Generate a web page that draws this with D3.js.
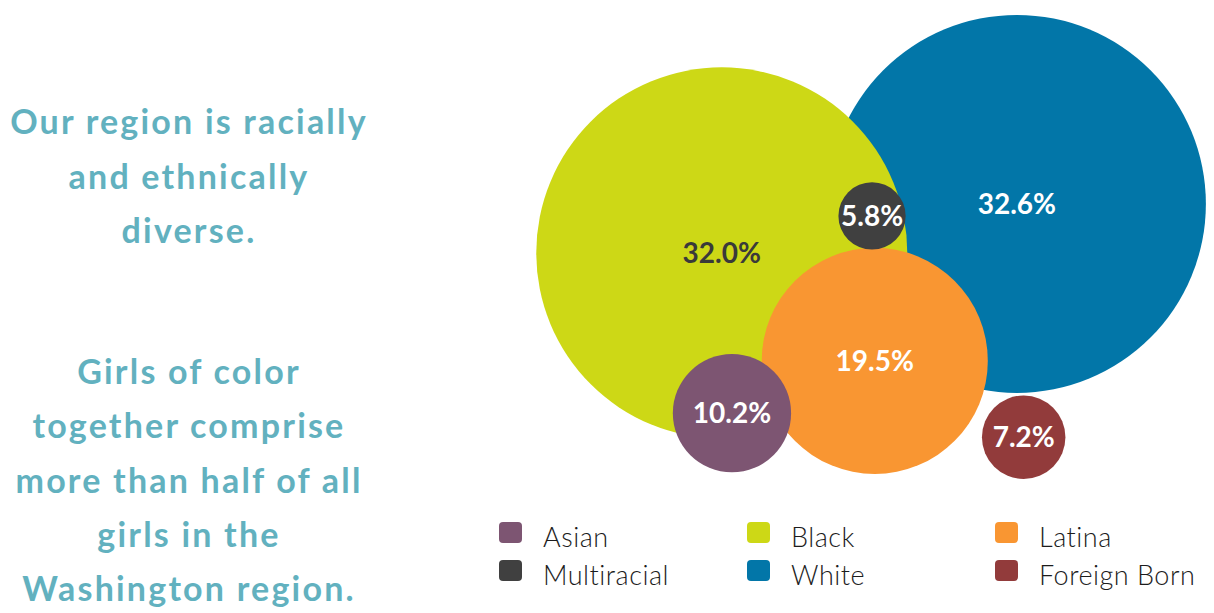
<!DOCTYPE html>
<html lang="en">
    <head>
        <meta charset="utf-8">
        <script src="https://d3js.org/d3.v7.min.js"></script>
        <style type="text/css">
            body {
                margin: 0;
                background: #ffffff;
            }
            svg {
                display: block;
            }
        </style>
    </head>
    <body>
        <div id="chart"></div>

        <script type="text/javascript">
            // data
            var groups = ["White", "Black", "Latina", "Asian", "Multiracial", "Foreign Born"];
            var shares = [32.6, 32.0, 19.5, 10.2, 5.8, 7.2];
            var colors = ["#0276a8", "#cdd816", "#f99632", "#7d5572", "#404040", "#923b3b"];
            var labelColors = ["#ffffff", "#3a3a3a", "#ffffff", "#ffffff", "#ffffff", "#ffffff"];
            // bubble layout (relative position inside the bubble area)
            var layoutX = [0.716, 0.282, 0.507, 0.297, 0.503, 0.726];
            var layoutY = [0.404, 0.506, 0.731, 0.840, 0.429, 0.890];

            // legend order (3 columns x 2 rows)
            var legendOrder = ["Asian", "Black", "Latina", "Multiracial", "White", "Foreign Born"];

            var introLines = ["Our region is racially", "and ethnically", "diverse."];
            var claimLines = ["Girls of color", "together comprise", "more than half of all",
                              "girls in the", "Washington region."];

            var w = 1214;
            var h = 613;

            var svg = d3.select("#chart")
            .append("svg")
            .attr("width", w)
            .attr("height", h);

            // scales
            var x = d3.scaleLinear().domain([0, 1]).range([530, 1210]);
            var y = d3.scaleLinear().domain([0, 1]).range([10, 490]);
            var r = d3.scaleLinear().domain([0, 32.6]).range([0, 189]);

            var bubbles = groups.map(function(g, i) {
                return { name: g, value: shares[i], color: colors[i], label: labelColors[i],
                         px: layoutX[i], py: layoutY[i] };
            });

            // Create bubbles
            var bubbleGroup = svg.append("g");
            bubbleGroup.selectAll("circle")
            .data(bubbles)
            .enter()
            .append("circle")
            .attr("cx", function(d) { return x(d.px); })
            .attr("cy", function(d) { return y(d.py); })
            .attr("r", function(d) { return r(d.value); })
            .attr("fill", function(d) { return d.color; });

            bubbleGroup.selectAll("text")
            .data(bubbles)
            .enter()
            .append("text")
            .attr("x", function(d) { return x(d.px); })
            .attr("y", function(d) { return y(d.py); })
            .attr("dy", "0.36em")
            .attr("text-anchor", "middle")
            .attr("font-family", "Lato, sans-serif")
            .attr("font-weight", 700)
            .attr("font-size", 28)
            .attr("fill", function(d) { return d.label; })
            .text(function(d) { return d.value.toFixed(1) + "%"; });

            // Create side texts
            var textGroup = svg.append("g")
            .attr("font-family", "Lato, sans-serif")
            .attr("font-weight", 700)
            .attr("font-size", 34)
            .attr("letter-spacing", 2.2)
            .attr("fill", "#62b1bf")
            .attr("text-anchor", "middle");

            textGroup.selectAll("text.intro")
            .data(introLines)
            .enter()
            .append("text")
            .attr("class", "intro")
            .attr("x", 189)
            .attr("y", function(d, i) { return 134 + i * 54.5; })
            .text(function(d) { return d; });

            textGroup.selectAll("text.claim")
            .data(claimLines)
            .enter()
            .append("text")
            .attr("class", "claim")
            .attr("x", 189)
            .attr("y", function(d, i) { return 384 + i * 54.3; })
            .text(function(d) { return d; });

            // Create legend
            var colX = d3.scaleBand().domain([0, 1, 2]).range([499, 1243]);
            var rowY = d3.scaleBand().domain([0, 1]).range([522, 598]);

            var legend = svg.append("g")
            .selectAll("g")
            .data(legendOrder)
            .enter()
            .append("g")
            .attr("transform", function(d, i) {
                return "translate(" + colX(i % 3) + "," + rowY(Math.floor(i / 3)) + ")";
            });

            legend.append("rect")
            .attr("width", 23)
            .attr("height", 21)
            .attr("rx", 4)
            .attr("fill", function(d) { return colors[groups.indexOf(d)]; });

            legend.append("text")
            .attr("x", 44)
            .attr("y", 25)
            .attr("font-family", "Lato, sans-serif")
            .attr("font-weight", 300)
            .attr("font-size", 27)
            .attr("letter-spacing", 0.5)
            .attr("fill", "#1c1c1c")
            .text(function(d) { return d; });
        </script>
    </body>
</html>
